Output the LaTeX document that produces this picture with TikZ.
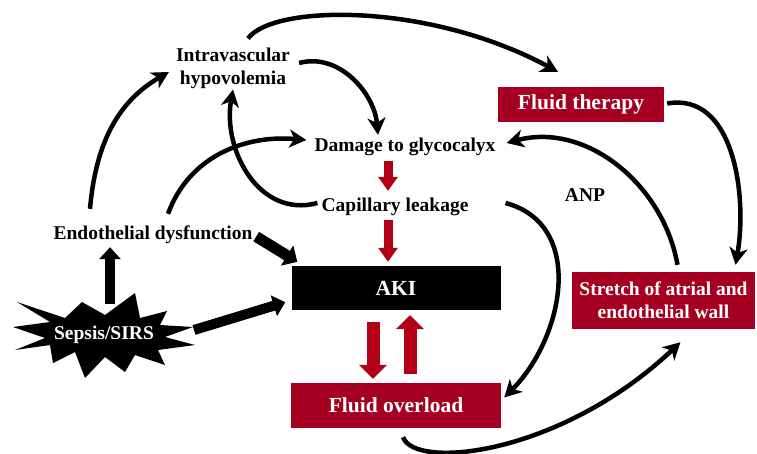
\documentclass[tikz,border=0pt]{standalone}
\usepackage{fontspec}
\setmainfont{Liberation Serif}
\usetikzlibrary{positioning, calc, arrows.meta, backgrounds}

\definecolor{boxred}{RGB}{165,0,33}
\definecolor{arrowred}{RGB}{178,0,22}

\begin{document}
\begin{tikzpicture}[
		x=1pt, y=1pt,
		font=\bfseries\fontsize{19.5}{23}\selectfont,
		% Plain text labels
		lbl/.style={align=center, inner sep=1pt},
		% Filled boxes
		redbox/.style={fill=boxred, text=white, align=center, inner sep=0pt,
			font=\bfseries\fontsize{21.5}{24}\selectfont},
		blackbox/.style={fill=black, text=white, inner sep=0pt,
			font=\bfseries\fontsize{21.5}{24}\selectfont},
		% Connector styles
		redarrow/.style={draw=arrowred, line width=#1, -{Triangle[length=14pt, width=2.1*#1]}},
		blockarrow/.style={draw=black, line width=#1, -{Triangle[length=12pt, width=2.1*#1]}},
		curvearrow/.style={draw=black, line width=4.5pt, -{Stealth[length=17pt, width=18pt, inset=5pt]}}
		]
		\useasboundingbox (0,0) rectangle (757,-453);
		
		% ==============================================================================
		% 1. NODES
		% ==============================================================================
		\node[lbl] (hypo) at (233,-68) {Intravascular\\hypovolemia};
		\node[lbl] (dmg) at (405,-147) {Damage to glycocalyx};
		\node[lbl] (cap) at (395,-207) {Capillary leakage};
		\node[lbl] (endo) at (153,-235) {Endothelial dysfunction};
		\node[lbl] (anp) at (585,-195) {ANP};
		
		\node[blackbox, minimum width=209pt, minimum height=44pt] (aki) at (396,-288) {AKI};
		\node[redbox, minimum width=210pt, minimum height=45pt] (over) at (396,-405.5) {Fluid overload};
		\node[redbox, minimum width=166pt, minimum height=35pt] (ther) at (581,-104.5) {Fluid therapy};
		\node[redbox, minimum width=183pt, minimum height=57pt, font=\bfseries\fontsize{19.5}{23}\selectfont]
			(stretch) at (663.5,-300.5) {Stretch of atrial and\\endothelial wall};
		
		\node[lbl, text=white] (sepsis) at (104,-335) {Sepsis/SIRS};
		% Starburst behind the sepsis label
		\begin{scope}[on background layer, shift={(sepsis.center)}]
			\fill (-87,33) -- (-39,17) -- (-22,33) -- (1,20) -- (31,42) -- (36,17) -- (63,24)
				-- (56,10) -- (89,8) -- (61,-2) -- (91,-10) -- (54,-15) -- (61,-30) -- (31,-20)
				-- (21,-37) -- (1,-22) -- (-19,-43) -- (-29,-17) -- (-51,-28) -- (-54,-10)
				-- (-89,-15) -- (-59,-3) -- (-91,8) -- (-54,13) -- cycle;
		\end{scope}
		
		% ==============================================================================
		% 2. BLOCK ARROWS
		% ==============================================================================
		\draw[redarrow=9pt, shorten <=4pt, shorten >=6pt] ([xshift=-17]dmg.south) -- ([xshift=-7]cap.north);
		\draw[redarrow=9pt, shorten <=3pt, shorten >=4pt] ([xshift=-7]cap.south) -- ([xshift=-8]aki.north);
		\draw[redarrow=13pt, shorten <=12pt, shorten >=4pt] ([xshift=-23]aki.south) -- ([xshift=-23]over.north);
		\draw[redarrow=13pt, shorten <=9pt, shorten >=5pt] ([xshift=14]over.north) -- ([xshift=14]aki.south);
		
		\draw[blockarrow=10pt, shorten >=2pt] ([shift={(6,31)}]sepsis.center) -- ([xshift=-43]endo.south);
		\draw[blockarrow=11pt, shorten <=3pt] (endo.east) -- ([shift={(6,4)}]aki.north west);
		\draw[blockarrow=10pt] ([shift={(90,5)}]sepsis.center) -- ([shift={(-6,8)}]aki.south west);
		
		% ==============================================================================
		% 3. CURVED ARROWS
		% ==============================================================================
		\draw[curvearrow] ([xshift=-63,yshift=16]endo.north) to[out=85, in=210] ([shift={(-6,-4)}]hypo.west);
		\draw[curvearrow] ([xshift=15,yshift=11]endo.north) to[out=70, in=175] ([shift={(-7,7)}]dmg.west);
		\draw[curvearrow] ([xshift=-3,yshift=4]cap.west) to[out=195, in=260, looseness=1.1] (hypo.south);
		\draw[curvearrow] ([shift={(8,5)}]hypo.east) to[out=15, in=95] ([xshift=-27,yshift=2]dmg.north);
		\draw[curvearrow] ([xshift=15,yshift=8]hypo.north) .. controls +(25,34) and +(-130,70) .. ([xshift=-23,yshift=15]ther.north);
		\draw[curvearrow] ([shift={(3,1)}]ther.east) to[out=10, in=80] ([xshift=72,yshift=7]stretch.north);
		\draw[curvearrow] ([xshift=14,yshift=7]stretch.north) to[out=100, in=15] ([shift={(10,4)}]dmg.east);
		\draw[curvearrow] ([shift={(36,4)}]cap.east) to[out=-15, in=45, looseness=1.1] ([shift={(3,8)}]over.east);
		\draw[curvearrow] ([xshift=7,yshift=-9]over.south) .. controls +(12,-33) and +(-120,-113) .. ([xshift=17,yshift=-13]stretch.south);
	\end{tikzpicture}
\end{document}
